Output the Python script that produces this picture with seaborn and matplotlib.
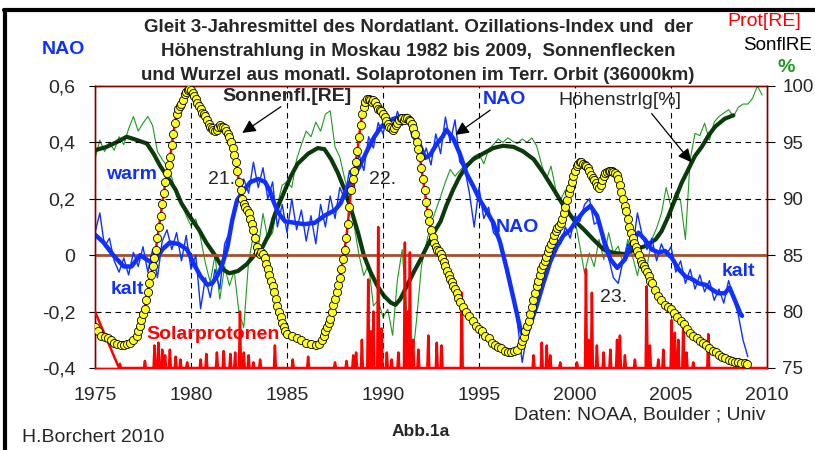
import numpy as np
import pandas as pd
import matplotlib
matplotlib.use("Agg")
import matplotlib.pyplot as plt
import seaborn as sns
from matplotlib.lines import Line2D
from matplotlib.ticker import FixedLocator, MultipleLocator

sns.set_style("white")
plt.rcParams['font.family'] = ['Liberation Sans', 'DejaVu Sans']

# --- Sonnenflecken (skaliert auf NAO-Achse) ---
sun_year = [1975.0, 1975.17, 1975.33, 1975.5, 1975.67, 1975.83, 1976.0, 1976.17, 1976.33, 1976.5,
            1976.67, 1976.83, 1977.0, 1977.17, 1977.25, 1977.33, 1977.42, 1977.5, 1977.58, 1977.67,
            1977.75, 1977.83, 1977.92, 1978.0, 1978.08, 1978.17, 1978.25, 1978.33, 1978.42, 1978.5,
            1978.58, 1978.67, 1978.75, 1978.83, 1978.92, 1979.0, 1979.08, 1979.17, 1979.25, 1979.33,
            1979.42, 1979.5, 1979.58, 1979.67, 1979.75, 1979.83, 1979.92, 1980.0, 1980.08, 1980.17,
            1980.25, 1980.33, 1980.42, 1980.5, 1980.58, 1980.67, 1980.75, 1980.83, 1980.92, 1981.0,
            1981.08, 1981.17, 1981.25, 1981.33, 1981.42, 1981.5, 1981.58, 1981.67, 1981.75, 1981.83,
            1981.92, 1982.0, 1982.08, 1982.17, 1982.25, 1982.33, 1982.42, 1982.5, 1982.58, 1982.67,
            1982.75, 1982.83, 1982.92, 1983.0, 1983.08, 1983.17, 1983.25, 1983.33, 1983.42, 1983.5,
            1983.58, 1983.67, 1983.75, 1983.83, 1983.92, 1984.0, 1984.08, 1984.17, 1984.25, 1984.33,
            1984.42, 1984.5, 1984.58, 1984.67, 1984.75, 1984.83, 1984.92, 1985.0, 1985.25, 1985.5,
            1985.75, 1986.0, 1986.25, 1986.5, 1986.67, 1986.83, 1986.92, 1987.0, 1987.08, 1987.17,
            1987.25, 1987.33, 1987.42, 1987.5, 1987.58, 1987.67, 1987.75, 1987.83, 1987.92, 1988.0,
            1988.08, 1988.17, 1988.25, 1988.33, 1988.42, 1988.5, 1988.58, 1988.67, 1988.75, 1988.83,
            1988.92, 1989.0, 1989.08, 1989.17, 1989.25, 1989.33, 1989.42, 1989.5, 1989.58, 1989.67,
            1989.75, 1989.83, 1989.92, 1990.0, 1990.08, 1990.17, 1990.25, 1990.33, 1990.42, 1990.5,
            1990.58, 1990.67, 1990.75, 1990.83, 1990.92, 1991.0, 1991.08, 1991.17, 1991.25, 1991.33,
            1991.42, 1991.5, 1991.58, 1991.67, 1991.75, 1991.83, 1991.92, 1992.0, 1992.08, 1992.17,
            1992.25, 1992.33, 1992.42, 1992.5, 1992.58, 1992.67, 1992.75, 1992.83, 1992.92, 1993.0,
            1993.08, 1993.17, 1993.25, 1993.33, 1993.42, 1993.5, 1993.58, 1993.67, 1993.75, 1993.83,
            1993.92, 1994.0, 1994.17, 1994.33, 1994.5, 1994.67, 1994.83, 1995.0, 1995.17, 1995.33,
            1995.5, 1995.67, 1995.83, 1996.0, 1996.17, 1996.33, 1996.5, 1996.67, 1996.83, 1997.0,
            1997.17, 1997.25, 1997.33, 1997.42, 1997.5, 1997.58, 1997.67, 1997.75, 1997.83, 1997.92,
            1998.0, 1998.08, 1998.17, 1998.25, 1998.33, 1998.42, 1998.5, 1998.58, 1998.67, 1998.75,
            1998.83, 1998.92, 1999.0, 1999.08, 1999.17, 1999.25, 1999.33, 1999.42, 1999.5, 1999.58,
            1999.67, 1999.75, 1999.83, 1999.92, 2000.0, 2000.08, 2000.17, 2000.25, 2000.33, 2000.42,
            2000.5, 2000.58, 2000.67, 2000.75, 2000.83, 2000.92, 2001.0, 2001.08, 2001.17, 2001.25,
            2001.33, 2001.42, 2001.5, 2001.58, 2001.67, 2001.75, 2001.83, 2001.92, 2002.0, 2002.08,
            2002.17, 2002.25, 2002.33, 2002.42, 2002.5, 2002.58, 2002.67, 2002.75, 2002.83, 2002.92,
            2003.0, 2003.08, 2003.17, 2003.25, 2003.33, 2003.42, 2003.5, 2003.58, 2003.67, 2003.75,
            2003.83, 2003.92, 2004.0, 2004.17, 2004.33, 2004.5, 2004.67, 2004.83, 2005.0, 2005.17,
            2005.33, 2005.5, 2005.67, 2005.83, 2006.0, 2006.17, 2006.33, 2006.5, 2006.67, 2006.83,
            2007.0, 2007.17, 2007.33, 2007.5, 2007.67, 2007.83, 2008.0, 2008.17, 2008.33, 2008.5,
            2008.67, 2008.83, 2008.95]
sun_val = [-0.255, -0.27, -0.285, -0.29, -0.295, -0.30, -0.31, -0.315, -0.32, -0.32,
           -0.315, -0.31, -0.30, -0.285, -0.27, -0.25, -0.23, -0.21, -0.19, -0.16,
           -0.13, -0.10, -0.07, -0.04, -0.01, 0.02, 0.06, 0.10, 0.14, 0.18,
           0.22, 0.26, 0.29, 0.32, 0.35, 0.39, 0.43, 0.47, 0.50, 0.52,
           0.53, 0.535, 0.55, 0.57, 0.58, 0.585, 0.59, 0.585, 0.575, 0.565,
           0.555, 0.54, 0.53, 0.52, 0.505, 0.50, 0.495, 0.48, 0.465, 0.455,
           0.45, 0.445, 0.44, 0.445, 0.455, 0.46, 0.455, 0.455, 0.45, 0.44,
           0.43, 0.42, 0.40, 0.38, 0.355, 0.33, 0.30, 0.26, 0.23, 0.20,
           0.18, 0.17, 0.16, 0.15, 0.13, 0.11, 0.09, 0.06, 0.03, 0.01,
           0.005, 0.01, 0.005, -0.01, -0.03, -0.05, -0.07, -0.09, -0.11, -0.13,
           -0.155, -0.18, -0.20, -0.22, -0.24, -0.255, -0.27, -0.28, -0.285, -0.295,
           -0.30, -0.31, -0.315, -0.32, -0.315, -0.30, -0.285, -0.27, -0.255, -0.24,
           -0.225, -0.20, -0.175, -0.155, -0.13, -0.105, -0.08, -0.05, -0.015, 0.02,
           0.06, 0.11, 0.17, 0.23, 0.27, 0.30, 0.33, 0.37, 0.42, 0.46,
           0.50, 0.525, 0.545, 0.555, 0.555, 0.55, 0.545, 0.55, 0.545, 0.53,
           0.52, 0.515, 0.51, 0.50, 0.49, 0.475, 0.465, 0.455, 0.45, 0.445,
           0.45, 0.46, 0.47, 0.48, 0.485, 0.485, 0.48, 0.485, 0.485, 0.48,
           0.475, 0.465, 0.45, 0.43, 0.40, 0.375, 0.35, 0.31, 0.27, 0.23,
           0.19, 0.15, 0.12, 0.09, 0.065, 0.045, 0.03, 0.02, 0.015, 0.005,
           -0.01, -0.025, -0.04, -0.055, -0.07, -0.085, -0.095, -0.11, -0.12, -0.135,
           -0.15, -0.165, -0.185, -0.20, -0.215, -0.235, -0.25, -0.26, -0.27, -0.285,
           -0.295, -0.31, -0.32, -0.325, -0.33, -0.34, -0.345, -0.345, -0.34, -0.335,
           -0.32, -0.305, -0.29, -0.27, -0.25, -0.235, -0.21, -0.185, -0.16, -0.135,
           -0.11, -0.09, -0.07, -0.05, -0.035, -0.02, -0.005, 0.01, 0.025, 0.04,
           0.055, 0.07, 0.085, 0.095, 0.105, 0.115, 0.13, 0.15, 0.17, 0.195,
           0.22, 0.24, 0.26, 0.28, 0.30, 0.315, 0.325, 0.33, 0.33, 0.325,
           0.32, 0.315, 0.31, 0.30, 0.285, 0.275, 0.265, 0.255, 0.245, 0.24,
           0.25, 0.265, 0.28, 0.29, 0.295, 0.30, 0.30, 0.30, 0.295, 0.29,
           0.285, 0.27, 0.25, 0.225, 0.20, 0.175, 0.155, 0.13, 0.10, 0.08,
           0.06, 0.045, 0.03, 0.015, 0.0, -0.02, -0.03, -0.04, -0.05, -0.06,
           -0.075, -0.09, -0.10, -0.125, -0.145, -0.16, -0.175, -0.185, -0.19, -0.205,
           -0.22, -0.235, -0.245, -0.26, -0.275, -0.285, -0.295, -0.305, -0.31, -0.32,
           -0.33, -0.34, -0.345, -0.355, -0.36, -0.365, -0.37, -0.375, -0.378, -0.38,
           -0.382, -0.384, -0.386]

# --- NAO Monatswerte (duenn), ab 1975.0 im Vierteljahrestakt ---
nao_thin = [0.08, 0.15, 0.03, 0.06, -0.02, -0.06, -0.01, -0.07, 0.01, -0.04,
            0.03, -0.06, 0.02, -0.08, 0.05, 0.09, 0.02, 0.08, -0.02, 0.07,
            -0.05, 0.00, -0.19, -0.08, -0.15, -0.05, -0.12, 0.04, 0.08, 0.17,
            0.20, 0.27, 0.22, 0.33, 0.24, 0.31, 0.20, 0.26, 0.10, 0.18,
            0.08, 0.20, 0.09, 0.16, 0.05, 0.14, 0.04, 0.18, 0.10, 0.21,
            0.13, 0.24, 0.20, 0.30, 0.24, 0.36, 0.30, 0.42, 0.38, 0.47,
            0.43, 0.50, 0.44, 0.51, 0.46, 0.50, 0.42, 0.40, 0.33, 0.38,
            0.32, 0.43, 0.36, 0.49, 0.40, 0.48, 0.33, 0.31, 0.22, 0.10,
            0.24, 0.13, 0.17, 0.08, 0.06, 0.00, -0.08, -0.14, -0.24, -0.38,
            -0.28, -0.22, -0.17, -0.09, -0.07, 0.01, 0.05, 0.04, 0.10, 0.06,
            0.14, 0.12, 0.18, 0.20, 0.11, 0.12, 0.03, -0.01, -0.08, -0.10,
            -0.02, 0.04, 0.02, 0.15, 0.07, 0.02, 0.06, -0.02, 0.04, 0.00,
            0.03, -0.06, -0.02, -0.10, -0.05, -0.12, -0.07, -0.13, -0.09, -0.16,
            -0.12, -0.17, -0.09, -0.15, -0.21, -0.30, -0.36]

# --- NAO gleitendes Mittel (dick) ---
nao_year = [1975.0, 1975.45, 1975.95, 1976.5, 1976.9, 1977.35, 1977.8, 1978.1, 1978.5, 1978.9,
            1979.35, 1979.8, 1980.1, 1980.5, 1980.85, 1981.1, 1981.35, 1981.6, 1981.9, 1982.15,
            1982.4, 1982.75, 1983.1, 1983.5, 1983.85, 1984.1, 1984.3, 1984.55, 1984.9, 1985.4,
            1985.9, 1986.45, 1986.95, 1987.5, 1987.8, 1988.15, 1988.5, 1988.85, 1989.2, 1989.55,
            1989.9, 1990.25, 1990.6, 1990.95, 1991.3, 1991.6, 1991.95, 1992.2, 1992.45, 1992.8,
            1993.1, 1993.3, 1993.65, 1994.0, 1994.35, 1994.7, 1995.05, 1995.4, 1995.75, 1996.1,
            1996.45, 1996.8, 1997.15, 1997.4, 1997.65, 1998.0, 1998.35, 1998.7, 1999.05, 1999.4,
            1999.75, 2000.1, 2000.45, 2000.8, 2001.15, 2001.5, 2001.85, 2002.2, 2002.6, 2002.95,
            2003.3, 2003.65, 2004.0, 2004.35, 2004.7, 2005.05, 2005.4, 2005.75, 2006.1, 2006.45,
            2006.8, 2007.1, 2007.45, 2007.8, 2008.05, 2008.3, 2008.6, 2008.7]
nao_val = [0.073, 0.045, 0.0, -0.04, -0.04, 0.0, -0.02, -0.025, 0.02, 0.045,
           0.04, 0.02, -0.025, -0.075, -0.105, -0.10, -0.075, -0.04, 0.03, 0.125,
           0.195, 0.23, 0.26, 0.27, 0.26, 0.23, 0.19, 0.15, 0.12, 0.115,
           0.11, 0.115, 0.14, 0.16, 0.185, 0.245, 0.28, 0.325, 0.375, 0.42,
           0.455, 0.475, 0.485, 0.49, 0.48, 0.445, 0.385, 0.345, 0.355, 0.395,
           0.42, 0.445, 0.415, 0.36, 0.29, 0.245, 0.195, 0.155, 0.115, 0.045,
           -0.05, -0.155, -0.26, -0.30, -0.25, -0.18, -0.10, -0.025, 0.03, 0.07,
           0.09, 0.125, 0.155, 0.175, 0.14, 0.055, -0.015, -0.045, -0.015, 0.045,
           0.08, 0.055, 0.02, 0.01, 0.015, -0.01, -0.05, -0.075, -0.085, -0.10,
           -0.105, -0.12, -0.135, -0.135, -0.115, -0.155, -0.205, -0.215]

# --- Hoehenstrahlung Moskau [%], duenn, ab 1975.0 im Vierteljahrestakt ---
cr_thin = [93.5, 95.2, 94.2, 95.0, 94.3, 95.5, 94.8, 96.2, 97.3, 96.0,
           96.7, 97.3, 96.5, 94.2, 93.5, 92.9, 91.9, 90.2, 89.6, 88.5,
           87.6, 88.2, 86.5, 84.3, 82.6, 85.0, 81.1, 84.0, 82.3, 83.6,
           79.9, 78.6, 84.5, 86.7, 85.6, 88.7, 86.4, 87.0, 89.5, 91.2,
           91.5, 91.0, 93.5, 94.8, 96.0, 95.5, 96.8, 96.0, 97.5, 97.8,
           94.6, 93.7, 91.8, 90.3, 87.6, 85.0, 83.2, 84.2, 80.5, 81.0,
           79.5, 80.2, 77.9, 82.8, 85.5, 79.7, 75.2, 79.3, 84.0, 86.0,
           87.8, 89.0, 90.2, 91.5, 92.6, 92.0, 92.5, 93.0, 93.3, 93.8,
           94.0, 93.1, 94.4, 94.8, 95.3, 95.0, 95.4, 95.1, 94.9, 95.3,
           95.0, 95.4, 94.7, 93.1, 91.7, 92.9, 90.8, 89.9, 90.8, 88.7,
           88.1, 85.8, 83.4, 85.2, 84.0, 86.4, 84.6, 87.0, 85.2, 85.8,
           84.3, 86.4, 84.9, 83.2, 85.2, 84.0, 86.4, 87.4, 88.7, 91.0,
           89.3, 90.6, 89.8, 86.4, 93.5, 95.8, 95.6, 96.7, 95.2, 96.8,
           97.3, 97.6, 97.9, 97.3, 98.1, 98.4, 98.4, 98.9, 100.0, 99.2]

# --- Hoehenstrahlung gleitendes Mittel [%] ---
cr_year = [1975.0, 1975.6, 1976.1, 1976.65, 1977.2, 1977.7, 1978.05, 1978.4, 1978.75, 1979.2,
           1979.5, 1979.95, 1980.4, 1980.8, 1981.25, 1981.7, 1982.0, 1982.45, 1982.9, 1983.3,
           1983.75, 1984.1, 1984.3, 1984.55, 1984.9, 1985.2, 1985.55, 1986.1, 1986.6, 1986.95,
           1987.3, 1987.65, 1988.0, 1988.35, 1988.7, 1989.0, 1989.35, 1989.7, 1990.05, 1990.4,
           1990.65, 1990.9, 1991.25, 1991.6, 1991.95, 1992.3, 1992.65, 1993.0, 1993.3, 1993.65,
           1994.0, 1994.35, 1994.7, 1995.2, 1995.75, 1996.25, 1996.8, 1997.3, 1997.85, 1998.35,
           1998.9, 1999.4, 1999.95, 2000.45, 2000.95, 2001.5, 2002.0, 2002.6, 2003.1, 2003.65,
           2004.2, 2004.5, 2004.85, 2005.2, 2005.55, 2005.9, 2006.25, 2006.6, 2006.95, 2007.3,
           2007.8, 2008.25]
cr_val = [94.3, 94.6, 95.0, 95.5, 95.2, 94.9, 94.0, 92.9, 92.0, 90.8,
          89.6, 88.4, 87.3, 86.1, 85.0, 83.7, 83.4, 83.6, 84.2, 85.0,
          85.8, 87.0, 88.3, 89.4, 90.8, 92.0, 93.1, 94.0, 94.5, 94.4,
          93.5, 92.3, 90.8, 89.0, 87.0, 85.0, 83.5, 82.3, 81.4, 80.8,
          80.6, 81.1, 82.3, 83.5, 84.6, 85.8, 87.0, 88.0, 89.4, 90.8,
          92.0, 92.9, 93.5, 94.0, 94.5, 94.7, 94.6, 94.2, 93.5, 92.3,
          90.8, 89.4, 88.1, 87.3, 86.4, 85.5, 85.2, 85.1, 85.5, 85.8,
          86.4, 87.1, 88.4, 89.9, 91.4, 92.6, 93.8, 94.6, 95.6, 96.4,
          97.1, 97.4]

# --- Solarprotonen (Wurzel, skaliert), Spitzen ueber Grundlinie -0,4 ---
prot_base = -0.4
prot_year = [1975.0, 1976.3, 1977.6, 1978.1, 1978.3, 1978.5, 1978.65, 1978.9, 1979.2, 1979.45,
             1979.8, 1980.5, 1980.8, 1981.35, 1981.7, 1982.05, 1982.3, 1982.55, 1982.75, 1983.0,
             1983.25, 1983.6, 1984.37, 1985.3, 1986.1, 1987.5, 1988.1, 1988.45, 1988.6, 1988.9,
             1989.23, 1989.37, 1989.5, 1989.75, 1989.93, 1990.2, 1990.45, 1990.8, 1991.14, 1991.27,
             1991.4, 1991.57, 1991.84, 1992.36, 1992.8, 1993.05, 1994.1, 1997.84, 1998.27, 1998.53,
             1998.71, 1999.23, 2000.1, 2000.57, 2000.71, 2000.88, 2001.14, 2001.49, 2001.84, 2002.19,
             2002.34, 2002.6, 2003.12, 2003.73, 2003.9, 2004.34, 2004.6, 2005.03, 2005.2, 2005.38,
             2005.64, 2005.81, 2006.16, 2006.94]
prot_val = [-0.2, -0.385, -0.375, -0.32, -0.31, -0.335, -0.355, -0.335, -0.36, -0.37,
            -0.38, -0.37, -0.35, -0.345, -0.34, -0.35, -0.345, -0.2, -0.345, -0.355,
            -0.38, -0.37, -0.32, -0.37, -0.36, -0.38, -0.375, -0.355, -0.345, -0.3,
            -0.086, -0.27, -0.2, 0.10, -0.26, -0.345, -0.37, -0.345, 0.045, -0.2,
            0.01, -0.3, -0.335, -0.285, -0.31, -0.32, -0.133, -0.355, -0.31, -0.32,
            -0.355, -0.38, -0.38, -0.05, -0.3, -0.133, -0.32, -0.345, -0.335, -0.3,
            -0.285, -0.355, -0.37, -0.11, -0.32, -0.37, -0.335, -0.23, -0.275, -0.3,
            -0.23, -0.345, -0.38, -0.28]

left_ticks = [-0.4, -0.2, 0.0, 0.2, 0.4, 0.6]
left_labels = ["-0,4", "-0,2", "0", "0,2", "0,4", "0,6"]
right_ticks = [75, 80, 85, 90, 95, 100]
x_ticks = [1975, 1980, 1985, 1990, 1995, 2000, 2005, 2010]

# Spitzenlinie fuer Protonen aufbauen
px, py = [1975.0], [prot_val[0]]
for t, v in zip(prot_year[1:], prot_val[1:]):
    px += [t - 0.05, t, t + 0.05]
    py += [prot_base, v, prot_base]
px.append(2010.0)
py.append(prot_base)

nao_thin_year = 1975 + 0.25 * np.arange(len(nao_thin))
cr_thin_year = 1975 + 0.25 * np.arange(len(cr_thin))

fig = plt.figure(figsize=(8.15, 4.5), dpi=100)
ax = fig.add_axes([95 / 815, 1 - 368 / 450, 672 / 815, 282 / 450])
ax2 = ax.twinx()
ax.set_zorder(ax2.get_zorder() + 1)
ax.patch.set_visible(False)

maroon = '#800000'
green_thin = '#1f9a1f'
green_thick = '#0b3a0b'
blue = '#1030ff'

# Hoehenstrahlung (rechte Achse)
sns.lineplot(x=cr_thin_year, y=cr_thin, ax=ax2, color=green_thin, lw=0.8,
             estimator=None, sort=False)
sns.lineplot(x=cr_year, y=cr_val, ax=ax2, color=green_thick, lw=3.0,
             estimator=None, sort=False)
ax2.set_ylim(75, 100)
ax2.yaxis.set_major_locator(FixedLocator(right_ticks))
ax2.set_yticklabels([str(t) for t in right_ticks])
ax2.set_ylabel("")

# Gitter und Nulllinie
for gx in range(1980, 2010, 5):
    ax.axvline(gx, color='black', lw=0.8, ls=(0, (5, 4)), zorder=1)
for gy in [0.4, 0.2, -0.2]:
    ax.axhline(gy, color='black', lw=0.8, ls=(0, (5, 4)), zorder=1)
ax.axhline(0, color='#a0522d', lw=2.0, zorder=1.5)

# NAO
sns.lineplot(x=nao_thin_year, y=nao_thin, ax=ax, color=blue, lw=1.0,
             estimator=None, sort=False, zorder=2)
sns.lineplot(x=nao_year, y=nao_val, ax=ax, color=blue, lw=3.2,
             estimator=None, sort=False, zorder=2.5)

# Protonen
sns.lineplot(x=px, y=py, ax=ax, color='#ff0000', lw=1.8,
             estimator=None, sort=False, zorder=3)

# Sonnenflecken
sns.lineplot(x=sun_year, y=sun_val, ax=ax, color='#ff0000', lw=1.8,
             estimator=None, sort=False, zorder=4)
sns.scatterplot(x=sun_year, y=sun_val, ax=ax, color='#ffff20', edgecolor='black',
                linewidth=0.6, s=34, zorder=5)

ax.set_xlim(1975, 2010)
ax.set_ylim(-0.4, 0.6)
ax.yaxis.set_major_locator(FixedLocator(left_ticks))
ax.set_yticklabels(left_labels)
ax.xaxis.set_major_locator(FixedLocator(x_ticks))
ax.xaxis.set_minor_locator(MultipleLocator(1))
ax.set_xticklabels([str(t) for t in x_ticks])
ax.set_xlabel("")
ax.set_ylabel("")

ax.tick_params(axis='y', direction='inout', length=8, width=0.8, pad=10,
               labelsize=14, color='black')
ax.tick_params(axis='x', which='both', direction='out', width=0.8, labelsize=14,
               color='black')
ax.tick_params(axis='x', which='major', length=5, pad=9)
ax.tick_params(axis='x', which='minor', length=5)
ax2.tick_params(axis='y', direction='out', length=6, width=0.8, pad=5,
                labelsize=13.5, color='black')

for a in (ax, ax2):
    for s in a.spines.values():
        s.set_color(maroon)
        s.set_linewidth(1.0)
    a.spines['bottom'].set_color('#ff0000')

# Beschriftungen im Diagramm
ax.text(1985.0, 0.562, "Sonnenfl.[RE]", fontsize=14, fontweight='bold',
        ha='center', va='center', zorder=6)
ax.annotate('', xy=(1982.55, 0.428), xytext=(1984.8, 0.532),
            arrowprops=dict(arrowstyle='-|>', color='black', lw=0.9, mutation_scale=20),
            zorder=6)
ax.text(1981.6, 0.27, "21.", fontsize=14, ha='center', va='center', zorder=6)
ax.text(1990.0, 0.27, "22.", fontsize=14, ha='center', va='center', zorder=6)
ax.text(2002.03, -0.149, "23.", fontsize=14, ha='center', va='center', zorder=6)
ax.text(1996.35, 0.552, "NAO", fontsize=14, fontweight='bold', color=blue,
        ha='center', va='center', zorder=6)
ax.annotate('', xy=(1993.65, 0.421), xytext=(1995.7, 0.52),
            arrowprops=dict(arrowstyle='-|>', color='black', lw=0.9, mutation_scale=20),
            zorder=6)
ax.text(1996.98, 0.099, "NAO", fontsize=14, fontweight='bold', color=blue,
        ha='center', va='center', zorder=6)
ax.text(1976.9, 0.287, "warm", fontsize=14, fontweight='bold', color=blue,
        ha='center', va='center', zorder=6)
ax.text(1976.67, -0.12, "kalt", fontsize=14, fontweight='bold', color=blue,
        ha='center', va='center', zorder=6)
ax.text(2008.5, -0.057, "kalt", fontsize=14, fontweight='bold', color=blue,
        ha='center', va='center', zorder=6)
ax.text(1981.15, -0.28, "Solarprotonen", fontsize=14, fontweight='bold',
        color='#ff0000', ha='center', va='center', zorder=6)
ax.text(2002.34, 0.549, "Höhenstrlg[%]", fontsize=14, ha='center', va='center',
        zorder=6)
ax.annotate('', xy=(2006.15, 0.322), xytext=(2003.9, 0.51),
            arrowprops=dict(arrowstyle='-|>', color='black', lw=0.9, mutation_scale=20),
            zorder=6)

# Titel und Randtexte
title_lines = ["Gleit 3-Jahresmittel des Nordatlant. Ozillations-Index und  der",
               "Höhenstrahlung in Moskau 1982 bis 2009,  Sonnenflecken",
               "und Wurzel aus monatl. Solaprotonen im Terr. Orbit (36000km)"]
for i, line in enumerate(title_lines):
    fig.text(418 / 815, 1 - (28 + 23.5 * i) / 450, line, fontsize=13.5, fontweight='bold',
             ha='center', va='center')
fig.text(63 / 815, 1 - 49 / 450, "NAO", fontsize=14, fontweight='bold', color=blue,
         ha='center', va='center')
fig.text(727 / 815, 1 - 21 / 450, "Prot[RE]", fontsize=14, color='#ff0000',
         ha='left', va='center')
fig.text(743 / 815, 1 - 46 / 450, "SonflRE", fontsize=13.5, color='black',
         ha='left', va='center')
fig.text(786 / 815, 1 - 68 / 450, "%", fontsize=14, fontweight='bold', color='#1f9a1f',
         ha='center', va='center')
fig.text(640 / 815, 1 - 415 / 450, "Daten: NOAA, Boulder ; Univ", fontsize=14,
         ha='center', va='center')
fig.text(421 / 815, 1 - 431 / 450, "Abb.1a", fontsize=12.5, fontweight='bold',
         ha='center', va='center')
fig.text(22 / 815, 1 - 438 / 450, "H.Borchert 2010", fontsize=14, ha='left',
         va='center')

# schwarzer Rahmen oben und links
fig.add_artist(Line2D([4 / 815, 1.0], [1 - 10 / 450, 1 - 10 / 450], color='black',
                      lw=3, transform=fig.transFigure))
fig.add_artist(Line2D([5 / 815, 5 / 815], [0.0, 1 - 10 / 450], color='black',
                      lw=3, transform=fig.transFigure))

fig.savefig("out.png", dpi=100)
